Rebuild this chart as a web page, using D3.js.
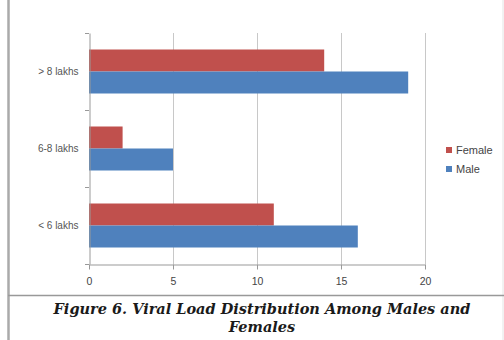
<!DOCTYPE html>
<html>
<head>
<meta charset="utf-8">
<script src="https://cdn.jsdelivr.net/npm/d3@7/dist/d3.min.js"></script>
<style>
  html, body { margin: 0; padding: 0; background: #fff; }
  svg { display: block; }
</style>
</head>
<body>
<svg id="chart" width="504" height="340"></svg>
<script>
// Viral load groups, listed top to bottom
const categories = ["> 8 lakhs", "6-8 lakhs", "< 6 lakhs"];
const seriesNames = ["Female", "Male"];
const femaleValues = [14, 2, 11];
const maleValues = [19, 5, 16];
const xTicks = [0, 5, 10, 15, 20];
const colors = { Female: "#C0504D", Male: "#4F81BD" };
const caption = ["Figure 6. Viral Load Distribution Among Males and", "Females"];

const rows = categories.map((c, i) => ({ cat: c, Female: femaleValues[i], Male: maleValues[i] }));

const svg = d3.select("#chart");
const W = 504, H = 340;

// frame lines
svg.append("line").attr("x1", 8.5).attr("x2", 8.5).attr("y1", 0).attr("y2", H)
  .attr("stroke", "#aaa").attr("stroke-width", 2.5);
svg.append("line").attr("x1", 503).attr("x2", 503).attr("y1", 0).attr("y2", H)
  .attr("stroke", "#e4e4e4").attr("stroke-width", 1);
svg.append("line").attr("x1", 8).attr("x2", W).attr("y1", 295.5).attr("y2", 295.5)
  .attr("stroke", "#999").attr("stroke-width", 1.5);

const plot = { left: 89, right: 425, top: 33, bottom: 264 };

const x = d3.scaleLinear().domain([0, 20]).range([plot.left, plot.right]);
const y = d3.scaleBand().domain(categories).range([plot.top, plot.bottom]);
const inner = d3.scaleBand().domain(seriesNames)
  .range([0, y.bandwidth()]).paddingInner(0).paddingOuter(0.75);

// vertical gridlines
svg.append("g").selectAll("line").data(xTicks.slice(1)).join("line")
  .attr("x1", d => x(d) + 0.5).attr("x2", d => x(d) + 0.5)
  .attr("y1", plot.top).attr("y2", plot.bottom)
  .attr("stroke", "#c8c8c8").attr("stroke-width", 1);

// bars
const groups = svg.append("g").selectAll("g").data(rows).join("g")
  .attr("transform", d => `translate(0,${y(d.cat)})`);
groups.selectAll("rect").data(d => seriesNames.map(s => ({ s, v: d[s] }))).join("rect")
  .attr("x", x(0))
  .attr("y", d => inner(d.s))
  .attr("width", d => x(d.v) - x(0))
  .attr("height", inner.bandwidth())
  .attr("fill", d => colors[d.s]);

// x axis
const xAxis = svg.append("g").attr("transform", `translate(0,${plot.bottom + 0.5})`)
  .call(d3.axisBottom(x).tickValues(xTicks).tickSize(5).tickSizeOuter(0).tickPadding(8));
xAxis.select(".domain").attr("stroke", "#999");
xAxis.selectAll(".tick line").attr("stroke", "#999");
xAxis.selectAll("text").attr("fill", "#444").attr("font-size", 10.5)
  .attr("font-family", "Liberation Sans, Arial, sans-serif");

// y axis
const yAxis = svg.append("g").attr("transform", `translate(${plot.left + 0.5},0)`)
  .call(d3.axisLeft(y).tickSize(0).tickPadding(11));
yAxis.select(".domain").attr("stroke", "#999");
svg.append("g").selectAll("line").data([plot.top, ...categories.map(c => y(c) + y.bandwidth())]).join("line")
  .attr("x1", plot.left - 4).attr("x2", plot.left)
  .attr("y1", d => d + 0.5).attr("y2", d => d + 0.5)
  .attr("stroke", "#999");
yAxis.selectAll("text").attr("fill", "#555").attr("font-size", 10)
  .attr("font-family", "Liberation Sans, Arial, sans-serif");

// legend
const legend = svg.append("g").attr("transform", "translate(446,147)");
seriesNames.forEach((s, i) => {
  const g = legend.append("g").attr("transform", `translate(0,${i * 19})`);
  g.append("rect").attr("width", 6).attr("height", 6).attr("fill", colors[s]);
  g.append("text").attr("x", 10).attr("y", 6.5).text(s)
    .attr("fill", "#444").attr("font-size", 11)
    .attr("font-family", "Liberation Sans, Arial, sans-serif");
});

// caption
svg.append("g").selectAll("text").data(caption).join("text")
  .attr("x", 262).attr("y", (d, i) => 314 + i * 18)
  .attr("text-anchor", "middle")
  .attr("font-family", "DejaVu Serif, serif")
  .attr("font-weight", "bold").attr("font-style", "italic")
  .attr("font-size", 14.5).attr("fill", "#1a1a1a")
  .text(d => d);
</script>
</body>
</html>
